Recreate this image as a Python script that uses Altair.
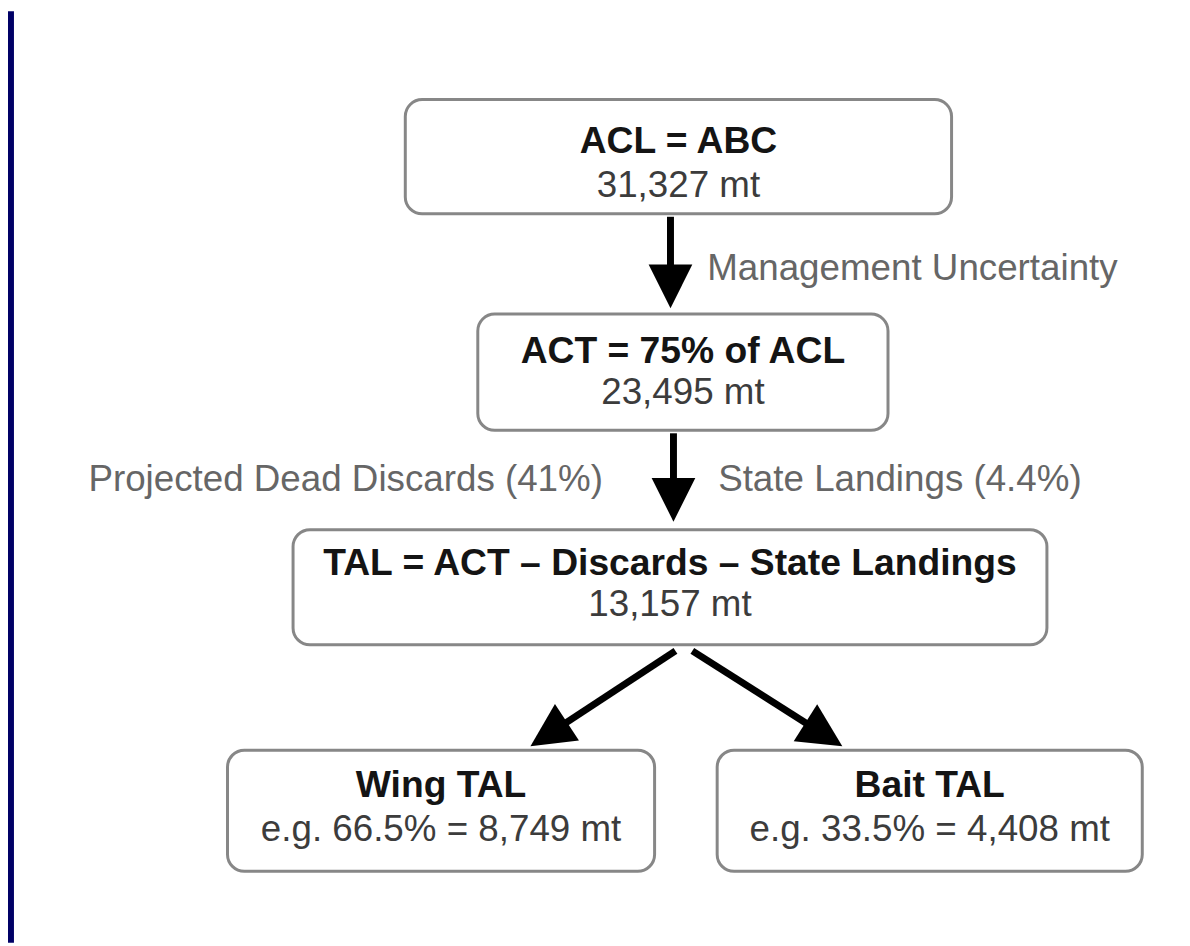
import math
import altair as alt
import pandas as pd

# ---- content ----
box_titles = ["ACL = ABC", "ACT = 75% of ACL", "TAL = ACT \u2013 Discards \u2013 State Landings", "Wing TAL", "Bait TAL"]
box_values = ["31,327 mt", "23,495 mt", "13,157 mt", "e.g. 66.5% = 8,749 mt", "e.g. 33.5% = 4,408 mt"]
edge_labels = ["Management  Uncertainty", "Projected Dead Discards (41%)", "State Landings (4.4%)"]

# ---- layout (page pixel coordinates) ----
box_x0 = [408, 481, 295, 229, 722]
box_x1 = [958, 894, 1054, 659, 1150]
box_y0 = [97, 313, 530, 752, 752]
box_y1 = [212, 430, 646, 874, 874]
title_y = [140, 351, 565, 788, 788]
value_y = [184, 392, 606, 832, 832]

label_x = [712, 607, 723]
label_y = [268, 480, 480]
label_align = ["left", "right", "left"]

arrow_x0 = [675, 678, 680, 697]
arrow_y0 = [215, 433, 652, 652]
arrow_x1 = [675, 678, 534, 848]
arrow_y1 = [307, 522, 748, 748]
HEAD = 44

W, H = 1182, 938
xs = alt.Scale(domain=[8, 8 + W], range=[0, W])
ys = alt.Scale(domain=[8, 8 + H], range=[0, H])

boxes = pd.DataFrame({
    "x0": box_x0, "x1": box_x1, "y0": box_y0, "y1": box_y1,
    "title": box_titles, "value": box_values,
    "ty": title_y, "vy": value_y,
})
boxes["cx"] = (boxes["x0"] + boxes["x1"]) / 2

rows = []
for x0, y0, x1, y1 in zip(arrow_x0, arrow_y0, arrow_x1, arrow_y1):
    dx, dy = x1 - x0, y1 - y0
    L = math.hypot(dx, dy)
    ux, uy = dx / L, dy / L
    hx, hy = x1 - ux * HEAD / 2, y1 - uy * HEAD / 2
    ang = math.degrees(math.atan2(-dx, dy)) % 360
    rows.append({"x0": x0, "y0": y0, "hx": hx, "hy": hy, "ang": ang})
arrows = pd.DataFrame(rows)

labels = pd.DataFrame({"x": label_x, "y": label_y, "text": edge_labels, "align": label_align})

strip = pd.DataFrame({"x0": [8], "x1": [14], "y0": [8], "y1": [946]})

FONT = "Liberation Sans"

rect_layer = alt.Chart(boxes).mark_rect(
    cornerRadius=17, fill="white", stroke="#878787", strokeWidth=3
).encode(
    x=alt.X("x0:Q", scale=xs, axis=None), x2="x1:Q",
    y=alt.Y("y0:Q", scale=ys, axis=None), y2="y1:Q",
)

title_layer = alt.Chart(boxes).mark_text(
    font=FONT, fontSize=37.5, fontWeight="bold", color="#141414", baseline="middle", align="center"
).encode(
    x=alt.X("cx:Q", scale=xs, axis=None), y=alt.Y("ty:Q", scale=ys, axis=None), text="title:N"
)

value_layer = alt.Chart(boxes).mark_text(
    font=FONT, fontSize=37, color="#3c3c3c", baseline="middle", align="center"
).encode(
    x=alt.X("cx:Q", scale=xs, axis=None), y=alt.Y("vy:Q", scale=ys, axis=None), text="value:N"
)

label_left = alt.Chart(labels[labels["align"] == "left"]).mark_text(
    font=FONT, fontSize=37, color="#666666", baseline="middle", align="left"
).encode(
    x=alt.X("x:Q", scale=xs, axis=None), y=alt.Y("y:Q", scale=ys, axis=None), text="text:N"
)
label_right = alt.Chart(labels[labels["align"] == "right"]).mark_text(
    font=FONT, fontSize=37, color="#666666", baseline="middle", align="right"
).encode(
    x=alt.X("x:Q", scale=xs, axis=None), y=alt.Y("y:Q", scale=ys, axis=None), text="text:N"
)

shaft_layer = alt.Chart(arrows).mark_rule(color="black", strokeWidth=7).encode(
    x=alt.X("x0:Q", scale=xs, axis=None), y=alt.Y("y0:Q", scale=ys, axis=None),
    x2="hx:Q", y2="hy:Q",
)

head_layer = alt.Chart(arrows).mark_point(
    shape="M-1,-1L1,-1L0,1Z", filled=True, color="black", opacity=1, size=HEAD * HEAD, strokeWidth=0
).encode(
    x=alt.X("hx:Q", scale=xs, axis=None), y=alt.Y("hy:Q", scale=ys, axis=None),
    angle=alt.Angle("ang:Q", scale=None),
)

strip_layer = alt.Chart(strip).mark_rect(color="#000066").encode(
    x=alt.X("x0:Q", scale=xs, axis=None), x2="x1:Q",
    y=alt.Y("y0:Q", scale=ys, axis=None), y2="y1:Q",
)

chart = alt.layer(
    strip_layer, rect_layer, shaft_layer, head_layer,
    title_layer, value_layer, label_left, label_right
).properties(
    width=W, height=H, autosize=alt.AutoSizeParams(type="none"), padding=0, background="white"
).configure_view(stroke=None)

chart.save("out.html", embed_options={"renderer": "svg", "actions": False})
